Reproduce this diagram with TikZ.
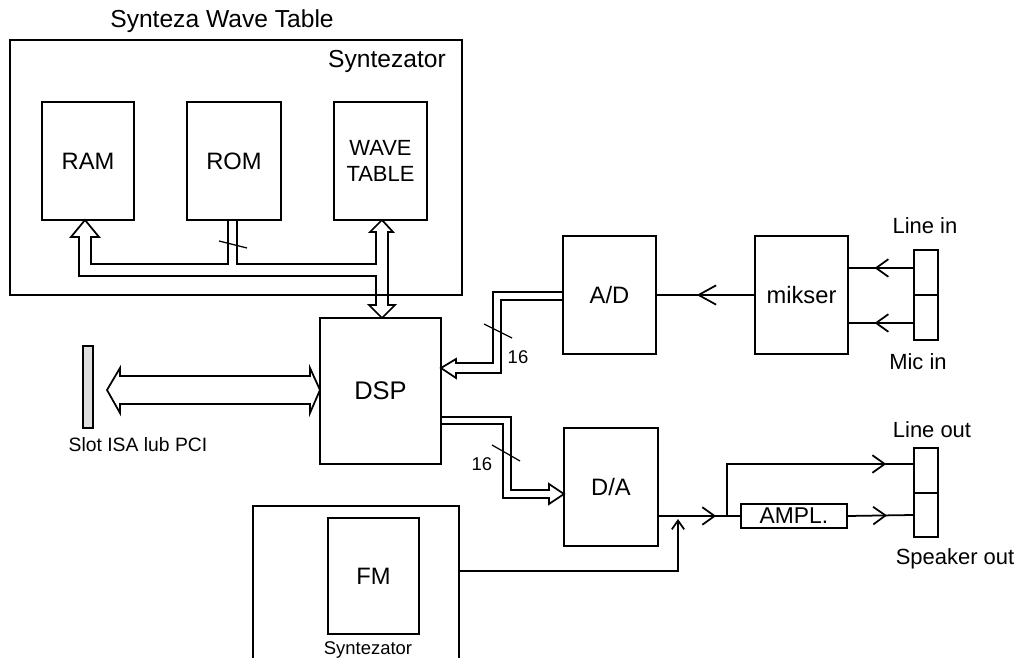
\documentclass[tikz,border=0pt]{standalone}
\usepackage{fontspec}
\setmainfont{Liberation Sans}
\usepackage{tikz}
\usetikzlibrary{arrows.meta,decorations.markings}

\tikzset{
  blok/.style={draw,line width=1pt,inner sep=0pt,font=\fontsize{13.5}{15}\selectfont},
  lbl/.style={inner sep=0pt,font=\fontsize{12.5}{14}\selectfont},
  small/.style={inner sep=0pt,font=\fontsize{10.5}{12}\selectfont},
  bus/.style={line width=1pt,line join=miter},
  tick/.style={line width=0.7pt},
  midarrow/.style={postaction={decorate},decoration={markings,
    mark=at position #1 with {\arrow{Straight Barb[length=7pt,width=10pt,line width=1pt]}}}}
}

\begin{document}
\begin{tikzpicture}[x=0.02cm,y=-0.02cm,line width=1pt]
\clip (0,0) rectangle (1019,658);
% synteza wave table
\node[lbl,font=\fontsize{14}{16}\selectfont] (title) at (222,21) {Synteza Wave Table};
\node[blok,minimum width=9.04cm,minimum height=5.10cm] (syn) at (236,167.5) {};
\node[lbl,font=\fontsize{14}{16}\selectfont] (synlbl) at (387,61) {Syntezator};
\node[blok,minimum width=1.84cm,minimum height=2.36cm] (RAM) at (88,161) {RAM};
\node[blok,minimum width=1.88cm,minimum height=2.36cm] (ROM) at (234,161) {ROM};
\node[blok,minimum width=1.86cm,minimum height=2.36cm,align=center,
  font=\fontsize{12.5}{15}\selectfont] (WT) at (380.5,161) {WAVE\\TABLE};
% DSP and slot
\node[blok,minimum width=2.42cm,minimum height=2.92cm,font=\fontsize{14.5}{16}\selectfont] (DSP) at (380.5,391) {DSP};
\node[draw,fill=gray!25,minimum width=0.20cm,minimum height=1.64cm,inner sep=0pt] (slot) at (88,387) {};
\node[lbl,font=\fontsize{11}{13}\selectfont] (slotlbl) at (138,445) {Slot ISA lub PCI};
% input side
\node[blok,minimum width=1.86cm,minimum height=2.36cm] (AD) at (609.5,295) {A/D};
\node[blok,minimum width=1.86cm,minimum height=2.36cm] (mik) at (801.5,295) {mikser};
\node[blok,minimum width=0.48cm,minimum height=0.90cm] (linein) at (926,272.5) {};
\node[blok,minimum width=0.48cm,minimum height=0.90cm] (micin) at (926,317.5) {};
\node[lbl] (lineinlbl) at (925,226) {Line in};
\node[lbl] (micinlbl) at (918,362) {Mic in};
% output side
\node[blok,minimum width=1.88cm,minimum height=2.36cm] (DA) at (611,487) {D/A};
\node[blok,minimum width=2.12cm,minimum height=0.48cm,font=\fontsize{13}{15}\selectfont] (ampl) at (794,516) {AMPL.};
\node[blok,minimum width=0.48cm,minimum height=0.90cm] (lineout) at (926,470.5) {};
\node[blok,minimum width=0.48cm,minimum height=0.88cm] (spk) at (926,515) {};
\node[lbl] (lineoutlbl) at (932,430) {Line out};
\node[lbl] (spklbl) at (955,559) {Speaker out};
% FM synth
\node[blok,minimum width=4.12cm,minimum height=3.48cm] (FMsyn) at (356,593) {};
\node[blok,minimum width=1.82cm,minimum height=2.32cm] (FM) at (373.5,576) {FM};
\node[small] (fmlbl) at (368,650) {Syntezator};

% internal bus of the synthesizer
\draw[bus] (228,220) -- (228,264) -- (91,264) -- (91,237) -- (99,237) -- (85,220)
  -- (71,237) -- (79,237) -- (79,276) -- (376,276) -- (376,305) -- (369,305)
  -- (382,318) -- (395,305) -- (388,305) -- (388,232) -- (393,232) -- (382,220)
  -- (370,232) -- (376,232) -- (376,264) -- (237,264) -- (237,220);
\draw[tick] (219,241) -- (247,248);
% slot <-> DSP
\draw[bus] (120,376) -- (310,376) -- (310,368) -- (320,390) -- (310,413) -- (310,404)
  -- (120,404) -- (120,413) -- (107,390) -- (120,368) -- cycle;
% A/D -> DSP
\draw[bus] (563,292) -- (493,292) -- (493,363) -- (456,363) -- (456,359) -- (441,368)
  -- (456,378) -- (456,373) -- (501,373) -- (501,300) -- (563,300);
\draw[tick] (484,324) -- (512,338);
\node[small] (n16a) at (518,357) {16};
% DSP -> D/A
\draw[bus] (441,417) -- (511,417) -- (511,490) -- (549,490) -- (549,484) -- (564,494)
  -- (549,504) -- (549,498) -- (503,498) -- (503,424) -- (441,424);
\draw[tick] (492,445) -- (520,461);
\node[small] (n16b) at (482,464) {16};

% analog signals
\coordinate (li) at ([yshift=0.09cm]linein.west);
\coordinate (mi) at ([yshift=-0.11cm]micin.west);
\coordinate (lo) at ([yshift=0.13cm]lineout.west);
\coordinate (fo) at ([yshift=0.44cm]FMsyn.east);
\coordinate (jn) at (727,516);
\coordinate (fmj) at (678,519);
\draw[postaction={decorate},decoration={markings,mark=at position 0.59 with
  {\arrow{Straight Barb[length=10pt,width=11pt,line width=1pt]}}}] (mik.west) -- (AD.east);
\draw[midarrow=0.6] (li) -- (mik.east |- li);
\draw[midarrow=0.6] (mi) -- (mik.east |- mi);
\draw[midarrow=0.84] (DA.east |- ampl.west) -- (jn);
\draw (jn) -- (ampl.west);
\draw[midarrow=0.887] (jn) |- (lo);
\draw[midarrow=0.6] (ampl.east) -- (spk.west);
\draw[-{Straight Barb[length=5pt,width=7pt]}] (fo) -| (fmj);
\end{tikzpicture}
\end{document}
